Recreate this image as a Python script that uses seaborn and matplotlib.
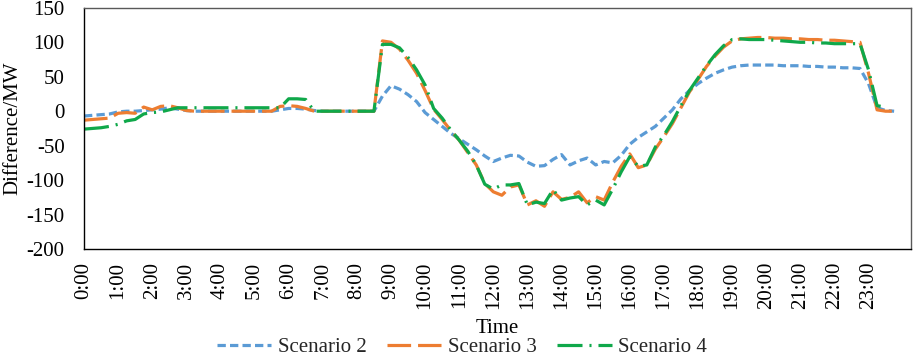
import numpy as np
import pandas as pd
import matplotlib
matplotlib.use('Agg')
import matplotlib.pyplot as plt
import seaborn as sns

# quarter-hour time steps, 0:00 .. 23:45
hours = np.arange(96) * 0.25
hour_labels = [f'{h}:00' for h in range(24)]

scenario_2 = [
    -7, -6, -5, -4,  -1, 0, 0, 1,  2, 3, 5, 3,  1, 0, 0, 0,
    0, 0, 0, 0,  0, 0, 0, 2,  4, 4, 3, 1,  0, 0, 0, 0,
    0, 0, 0, 22,  37, 32, 24, 14,  -2, -12, -22, -32,  -40, -48, -56, -65,
    -73, -68, -64, -65,  -74, -80, -79, -70,  -63, -78, -72, -68,  -78, -73, -75, -64,
    -48, -38, -30, -22,  -10, 2, 18, 30,  40, 48, 55, 60,  64, 66, 67, 67,
    67, 67, 66, 66,  66, 65, 65, 64,  64, 63, 63, 62,  40, 5, 1, 0,
]
scenario_3 = [
    -13, -12, -11, -10,  -3, -2, -3, 6,  2, 7, 8, 5,  1, 0, 0, 0,
    0, 0, 0, 0,  0, 0, 0, 7,  8, 7, 4, 0,  0, 0, 0, 0,
    0, 0, 0, 102,  100, 90, 74, 55,  30, 3, -12, -28,  -42, -60, -78, -105,
    -117, -122, -110, -107,  -136, -130, -138, -117,  -128, -125, -117, -133,  -124, -129, -103, -80,
    -62, -82, -78, -55,  -37, -18, 5, 28,  46, 65, 80, 93,  102, 105, 106, 107,
    107, 106, 106, 105,  105, 104, 104, 103,  103, 102, 101, 100,  55, 2, 0, 0,
]
scenario_4 = [
    -26, -25, -24, -22,  -19, -14, -12, -4,  -2, -1, 2, 5,  5, 5, 5, 5,
    5, 5, 5, 5,  5, 5, 5, 5,  18, 18, 17, 0,  0, 0, 0, 0,
    0, 0, 0, 97,  97, 92, 78, 60,  38, 4, -10, -27,  -42, -58, -78, -106,
    -113, -107, -107, -105,  -136, -132, -134, -114,  -129, -126, -124, -136,  -129, -136, -113, -88,
    -66, -80, -78, -52,  -35, -15, 8, 30,  48, 66, 82, 95,  104, 105, 104, 104,
    104, 103, 102, 101,  100, 100, 99, 99,  98, 98, 98, 98,  60, 8, 6, np.nan,
]

names = ['Scenario 2', 'Scenario 3', 'Scenario 4']
colors = ['#5B9BD5', '#ED7D31', '#0FA84A']

df = pd.DataFrame({'Time': hours, names[0]: scenario_2, names[1]: scenario_3, names[2]: scenario_4})
df = df.melt(id_vars='Time', var_name='Scenario', value_name='Difference').dropna()

sns.set_theme(style='white')
plt.rcParams['font.family'] = ['Liberation Serif', 'DejaVu Serif']
plt.rcParams['axes.unicode_minus'] = False
plt.rcParams['lines.scale_dashes'] = False

fig = plt.figure(figsize=(9.13, 3.57), dpi=100)
ax = fig.add_axes([0.092, 0.3025, 0.906, 0.6755])

sns.lineplot(data=df, x='Time', y='Difference', hue='Scenario', style='Scenario',
             hue_order=names, style_order=names, palette=colors,
             dashes={'Scenario 2': (6, 3), 'Scenario 3': (17, 5), 'Scenario 4': (18, 5, 1.5, 5)},
             linewidth=2.3, legend=False, ax=ax)

ax.set_xlim(0, 24.25)
ax.set_ylim(-200, 150)
ax.set_xticks(range(25))
ax.set_xticklabels(hour_labels + [''], rotation=90)
ax.set_yticks(range(-200, 151, 50))
ax.tick_params(axis='x', direction='in', length=5, width=1, color='black', pad=9, labelsize=15)
ax.tick_params(axis='y', length=0, pad=14, labelsize=15)
for t in ax.get_xticklabels() + ax.get_yticklabels():
    t.set_color('black')

for side in ['left', 'bottom']:
    ax.spines[side].set_color('black')
    ax.spines[side].set_linewidth(1)
for side in ['top', 'right']:
    ax.spines[side].set_color('#595959')
    ax.spines[side].set_linewidth(1)

ax.set_xlabel('Time', fontsize=15, color='black')
ax.xaxis.set_label_coords(0.5, -0.29)
ax.set_ylabel('Difference/MW', fontsize=15, color='black')
ax.yaxis.set_label_coords(-0.074, 0.5)

fig.legend(ax.lines[:3], names, loc='lower center', bbox_to_anchor=(0.506, -0.035), ncol=3,
           frameon=False, fontsize=15, handlelength=2.6, handletextpad=0.3, columnspacing=1.0,
           borderpad=0.1)

fig.savefig('out.png', dpi=100)
